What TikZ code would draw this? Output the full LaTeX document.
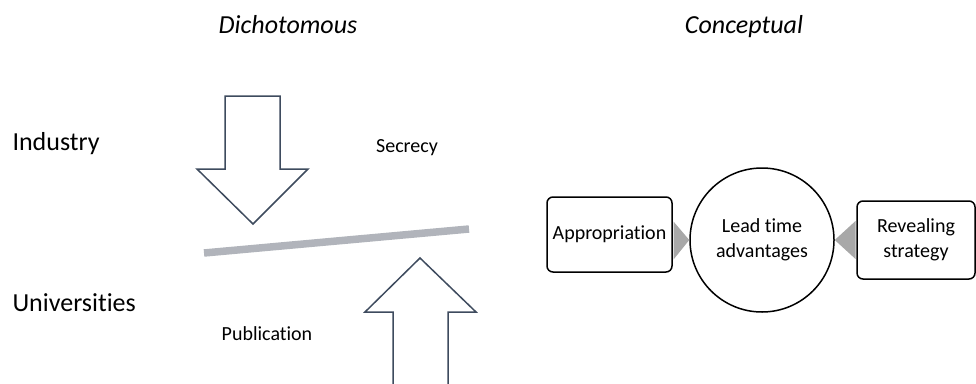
\documentclass[tikz,border=0pt]{standalone}
\usepackage{fontspec}
\setmainfont{Carlito}[Ligatures=NoCommon]
\usetikzlibrary{calc}
\definecolor{arrowline}{HTML}{3E4B5E}
\definecolor{barGray}{HTML}{B1B4BB}
\definecolor{wedgeGray}{HTML}{A8A8A8}
\tikzset{
  x=1pt, y=-1pt,
  heading/.style={font=\fontsize{26}{30}\selectfont\itshape, anchor=base},
  sidelabel/.style={font=\fontsize{26}{30}\selectfont, anchor=base west},
  smalllabel/.style={font=\fontsize{20}{25}\selectfont},
  blockarrow/.style={draw=arrowline, line width=1.5pt, fill=white, line join=miter},
  roundbox/.style={draw=black, line width=1.5pt, rounded corners=6pt, align=center,
    font=\fontsize{20}{25}\selectfont, inner sep=0pt},
  hub/.style={draw=black, line width=1.5pt, circle, align=center,
    font=\fontsize{20}{25}\selectfont, inner sep=0pt},
  wedge/.style={fill=wedgeGray, draw=none}
}
\begin{document}
\begin{tikzpicture}
  \useasboundingbox (0,0) rectangle (976,383);

  % column headings
  \node[heading] (hdich) at (288,33) {Dichotomous};
  \node[heading] (hconc) at (744,33) {Conceptual};

  % row labels
  \node[sidelabel] (industry) at (9,150) {Industry};
  \node[sidelabel] (univ) at (9,311) {Universities};

  % dichotomous view: two opposing block arrows and the tilted bar
  \draw[blockarrow] (225,96) -- (280,96) -- (280,169) -- (308,169) -- (253,224)
    -- (197,169) -- (225,169) -- cycle;
  \draw[blockarrow] (393,390) -- (393,312) -- (365,312) -- (420,258) -- (476,312)
    -- (448,312) -- (448,390);
  \draw[barGray, line width=7.5pt] (204,253) -- (469,229);

  \node[smalllabel] (secrecy) at (407,148) {Secrecy};
  \node[smalllabel] (publication) at (267,334) {Publication};

  % conceptual view
  \node[roundbox, minimum width=125pt, minimum height=75pt] (appr) at (609.5,234.5) {Appropriation};
  \node[hub, minimum size=144pt] (lead) at (762,240) {Lead time\\advantages};
  \node[roundbox, minimum width=118pt, minimum height=78pt] (reveal) at (916,240) {Revealing\\strategy};

  % wedges pointing from the boxes into the circle
  \fill[wedge] ($(appr.east)+(0.75,-13)$) -- (lead.west) -- ($(appr.east)+(0.75,25)$) -- cycle;
  \fill[wedge] ($(reveal.west)+(-0.75,-19)$) -- (lead.east) -- ($(reveal.west)+(-0.75,19)$) -- cycle;
\end{tikzpicture}
\end{document}
